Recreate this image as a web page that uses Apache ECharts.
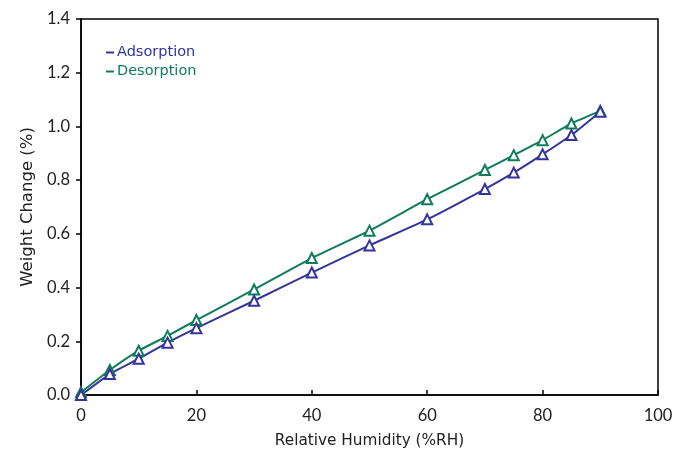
<!DOCTYPE html>
<html>
<head>
<meta charset="utf-8">
<script src="https://cdn.jsdelivr.net/npm/echarts@6/dist/echarts.min.js"></script>
<style>html,body{margin:0;padding:0;background:#fff}#c{width:674px;height:450px}</style>
</head>
<body>
<div id="c"></div>
<script>
var humidity = [0, 5, 10, 15, 20, 30, 40, 50, 60, 70, 75, 80, 85, 90];
var adsorption = [0.0, 0.078, 0.135, 0.195, 0.249, 0.351, 0.456, 0.557, 0.654, 0.767, 0.828, 0.896, 0.968, 1.055];
var desorption = [0.01, 0.093, 0.165, 0.22, 0.279, 0.393, 0.51, 0.612, 0.729, 0.838, 0.893, 0.949, 1.011, 1.058];
var xTicks = [0, 20, 40, 60, 80, 100];
var yTicks = [0.0, 0.2, 0.4, 0.6, 0.8, 1.0, 1.2, 1.4];

var blue = '#35349c';
var green = '#0f7c5c';
var titleFont = 'DejaVu Sans';
var tickFont = 'Lato';

function pairs(xs, ys) { return xs.map(function (x, i) { return [x, ys[i]]; }); }

var chart = echarts.init(document.getElementById('c'));
chart.setOption({
  animation: false,
  backgroundColor: '#fff',
  grid: { left: 81, right: 16, top: 19, bottom: 55, show: true, borderColor: '#000', borderWidth: 1.5, backgroundColor: 'transparent', containLabel: false, outerBoundsMode: 'none' },
  legend: {
    orient: 'vertical', left: 101, top: 40, itemGap: 4, itemWidth: 8, itemHeight: 2,
    icon: 'rect', selectedMode: false,
    textStyle: { fontFamily: titleFont, fontSize: 14.5, padding: [0, 0, 0, -2] },
    data: [
      { name: 'Adsorption', textStyle: { color: blue } },
      { name: 'Desorption', textStyle: { color: green } }
    ]
  },
  xAxis: {
    type: 'value', min: xTicks[0], max: xTicks[xTicks.length - 1], interval: 20,
    name: 'Relative Humidity (%RH)', nameLocation: 'middle', nameGap: 39,
    nameTextStyle: { fontFamily: titleFont, fontSize: 15.3, color: '#222' },
    axisLine: { lineStyle: { color: '#000', width: 1.5 } },
    axisTick: { show: true, inside: true, length: 5, lineStyle: { color: '#000', width: 1.5 } },
    axisLabel: { fontFamily: tickFont, fontSize: 16.5, color: '#222', margin: 12 },
    splitLine: { show: false }
  },
  yAxis: {
    type: 'value', min: yTicks[0], max: yTicks[yTicks.length - 1], interval: 0.2,
    name: 'Weight Change (%)', nameLocation: 'middle', nameGap: 43,
    nameTextStyle: { fontFamily: titleFont, fontSize: 16.5, color: '#222' },
    axisLine: { show: true, lineStyle: { color: '#000', width: 1.5 } },
    axisTick: { show: true, inside: false, length: 5, lineStyle: { color: '#000', width: 1.5 } },
    axisLabel: { fontFamily: tickFont, fontSize: 16.5, color: '#222', margin: 11, formatter: function (v) { return v.toFixed(1); } },
    splitLine: { show: false }
  },
  series: [
    {
      name: 'Desorption', type: 'line', data: pairs(humidity, desorption),
      symbol: 'emptyTriangle', symbolSize: 10, smooth: 0.15,
      lineStyle: { color: green, width: 2 }, itemStyle: { color: green, borderWidth: 2 }
    },
    {
      name: 'Adsorption', type: 'line', data: pairs(humidity, adsorption),
      symbol: 'emptyTriangle', symbolSize: 10, smooth: 0.15,
      lineStyle: { color: blue, width: 2 }, itemStyle: { color: blue, borderWidth: 2 }
    }
  ]
});
</script>
</body>
</html>
